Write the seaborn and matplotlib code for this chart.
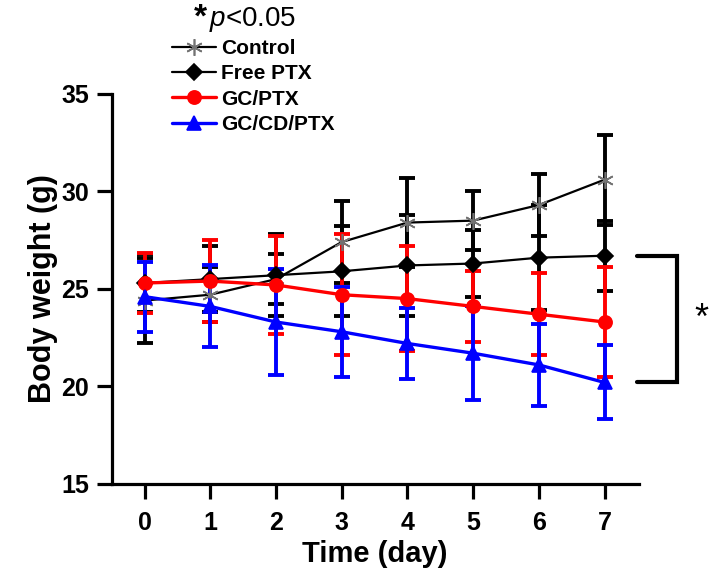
import numpy as np
import pandas as pd
import seaborn as sns
import matplotlib.pyplot as plt

days = [0, 1, 2, 3, 4, 5, 6, 7]
groups = ["Control", "Free PTX", "GC/PTX", "GC/CD/PTX"]

control_mean = [24.4, 24.7, 25.5, 27.4, 28.4, 28.5, 29.3, 30.6]
control_sd = [2.2, 1.4, 1.3, 2.1, 2.3, 1.5, 1.6, 2.3]
free_mean = [25.3, 25.5, 25.7, 25.9, 26.2, 26.3, 26.6, 26.7]
free_sd = [1.5, 1.7, 2.1, 2.3, 2.6, 1.7, 2.7, 1.8]
gc_mean = [25.3, 25.4, 25.2, 24.7, 24.5, 24.1, 23.7, 23.3]
gc_sd = [1.55, 2.1, 2.5, 3.1, 2.7, 1.8, 2.1, 2.8]
gccd_mean = [24.6, 24.1, 23.3, 22.8, 22.2, 21.7, 21.1, 20.2]
gccd_sd = [1.8, 2.1, 2.7, 2.3, 1.8, 2.4, 2.1, 1.9]

means = [control_mean, free_mean, gc_mean, gccd_mean]
sds = [control_sd, free_sd, gc_sd, gccd_sd]

sns.set_style("ticks")
plt.rcParams["font.family"] = ["Liberation Sans", "DejaVu Sans"]
plt.rcParams["mathtext.fontset"] = "custom"
plt.rcParams["mathtext.rm"] = "Liberation Sans"
plt.rcParams["mathtext.it"] = "Liberation Sans:italic"
plt.rcParams["mathtext.bf"] = "Liberation Sans:bold"
for k in ["text.color", "axes.labelcolor", "xtick.color", "ytick.color", "axes.edgecolor"]:
    plt.rcParams[k] = "black"

# стиль каждой группы
colors = ["black", "black", "#ff0000", "#0000ff"]
markers = [(6, 2, 0), "D", "o", "^"]
msizes = [12, 8, 9.5, 10]
lws = [1.6, 1.6, 2.4, 2.4]
mecs = ["0.45", "black", "#ff0000", "#0000ff"]

fig = plt.figure(figsize=(7.16, 5.76), dpi=100)
ax = fig.add_axes([0.156, 0.160, 0.736, 0.677])

for g, m, s, c, mk, ms, lw, mec in zip(groups, means, sds, colors, markers, msizes, lws, mecs):
    df = pd.DataFrame({"day": days, "weight": m})
    ax.errorbar(days, m, yerr=s, fmt="none", ecolor=c, elinewidth=2.8,
                capsize=6, capthick=2.8, zorder=2)
    sns.lineplot(data=df, x="day", y="weight", ax=ax, color=c, lw=lw,
                 marker=mk, markersize=ms, markeredgecolor=mec,
                 markerfacecolor=c, markeredgewidth=1.2, label=g, zorder=3)

ax.set_xlim(-0.5, 7.52)
ax.set_ylim(15, 35)
ax.set_xticks(days)
ax.set_yticks([15, 20, 25, 30, 35])
sns.despine(ax=ax)
for sp in ["left", "bottom"]:
    ax.spines[sp].set_linewidth(2.3)
ax.tick_params(direction="out", length=10.5, width=2.3, labelsize=18)
ax.tick_params(axis="x", pad=9)
ax.tick_params(axis="y", pad=6)
for lab in ax.get_xticklabels() + ax.get_yticklabels():
    lab.set_fontweight("bold")

ax.set_xlabel("Time (day)", fontsize=21, fontweight="bold", labelpad=4)
ax.set_ylabel("Body weight (g)", fontsize=22, fontweight="bold", labelpad=2)

# скобка значимости справа
y_top = free_mean[-1]
y_bot = gccd_mean[-1]
ax.plot([7.5, 8.1, 8.1, 7.5], [y_top, y_top, y_bot, y_bot], color="black",
        lw=3, clip_on=False, solid_joinstyle="miter")
ax.text(8.48, (y_top + y_bot) / 2, "*", fontsize=26, ha="center", va="center",
        clip_on=False)

handles, labels = ax.get_legend_handles_labels()
ax.get_legend().remove()
fig.legend(handles, labels, loc="upper left", bbox_to_anchor=(0.240, 0.932),
           frameon=False, prop={"weight": "bold", "size": 15},
           handlelength=2.1, handletextpad=0.25, labelspacing=0.3,
           borderpad=0, borderaxespad=0)

fig.text(0.271, 0.995, "*", fontsize=24, fontweight="bold", va="top", ha="left")
fig.text(0.292, 0.966, r"$\it{p}$<0.05", fontsize=20, va="center", ha="left")

plt.savefig("out.png", dpi=100)
